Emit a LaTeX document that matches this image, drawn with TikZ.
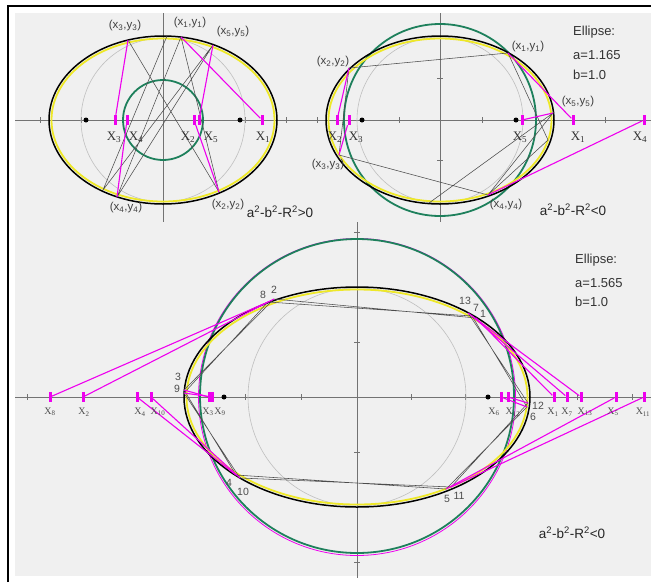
\documentclass[tikz,border=0pt]{standalone}
\usepackage{fontspec}
\setmainfont{Liberation Serif}
\newfontfamily\arial{Liberation Sans}
\usetikzlibrary{positioning}

\definecolor{bgray}{RGB}{240,240,240}
\definecolor{ellyellow}{RGB}{238,232,40}
\definecolor{causgreen}{RGB}{30,128,92}
\definecolor{raymag}{RGB}{238,0,238}

\tikzset{
  axisln/.style={draw=black!55, line width=0.6pt},
  unitcirc/.style={draw=black!25, line width=0.6pt},
  ellyel/.style={draw=ellyellow, line width=1.8pt},
  ellblk/.style={draw=black, line width=1.5pt},
  caustic/.style={draw=causgreen, line width=1.8pt},
  chord/.style={draw=black!70, line width=0.55pt},
  ray/.style={draw=raymag, line width=1.1pt},
  xbar/.style={fill=raymag, minimum width=3pt, minimum height=10pt, inner sep=0pt},
  fpoint/.style={circle, fill=black, minimum size=5pt, inner sep=0pt},
  ptlbl/.style={font=\arial\fontsize{11.5}{12}\selectfont, text=black!75, inner sep=0pt},
  xlbl/.style={font=\fontsize{13}{14}\selectfont, text=black!80, inner sep=0pt},
  xsmall/.style={font=\fontsize{10}{11}\selectfont, text=black!70, inner sep=0pt},
  numlbl/.style={font=\arial\fontsize{10.5}{11}\selectfont, text=black!70, inner sep=0pt},
  info/.style={font=\arial\fontsize{13}{15}\selectfont, text=black!80, inner sep=0pt, anchor=west},
  cond/.style={font=\arial\fontsize{13.5}{15}\selectfont, text=black!85, inner sep=0pt},
}

\begin{document}
\begin{tikzpicture}[x=1pt,y=-1pt]
		\useasboundingbox (0,0) rectangle (651,582);
		% --- frame ---
		\fill[bgray] (15,13) rectangle (651,576);
		\draw[line width=1.2pt] (8,582) -- (8,6) -- (651,6);

		% --- axes ---
		\draw[axisln] (15,120) -- (651,120);
		\draw[axisln] (15,397) -- (651,397);
		\draw[axisln] (163,13) -- (163,222);
		\draw[axisln] (440,13) -- (440,222);
		\draw[axisln] (357,222) -- (357,578);
		\foreach \t in {40,81,245,286,317,399,482,605} \draw[axisln] (\t,117) -- (\t,123);
		\foreach \t in {27,245,301,411,465,577,632} \draw[axisln] (\t,394) -- (\t,400);
		\foreach \t in {78,160} \draw[axisln] (437,\t) -- (443,\t);
		\foreach \t in {232,342,452,562} \draw[axisln] (354,\t) -- (360,\t);

		% --- TOP LEFT: a^2-b^2-R^2>0 ---
		\draw[unitcirc] (163,120) circle (82pt);
		\draw[caustic] (163,120) circle (40pt);
		\draw[ellyel] (163,120) ellipse (111.5pt and 81.5pt);
		\draw[ellblk] (163,120) ellipse (114pt and 84pt);
		\coordinate (tlp0) at (167,36);
		\coordinate (tlp1) at (181,37);
		\coordinate (tlp2) at (219,192);
		\coordinate (tlp3) at (128,40);
		\coordinate (tlp4) at (117,197);
		\coordinate (tlp5) at (213,45);
		\coordinate (tlp6) at (103,190);
		\draw[chord] (tlp0) -- (tlp6) (tlp1) -- (tlp4) (tlp1) -- (tlp2)
			(tlp3) -- (tlp2) (tlp5) -- (tlp4) (tlp5) -- (tlp6);
		\node[xbar] (tlX3) at (115,120) {};
		\node[xbar] (tlX4) at (127,120) {};
		\node[xbar] (tlX2) at (194,120) {};
		\node[xbar] (tlX5) at (199,120) {};
		\node[xbar] (tlX1) at (262,120) {};
		\draw[ray] (tlp3) -- (tlX3);
		\draw[ray] (tlp4) -- (tlX4);
		\draw[ray] (tlp2) -- (tlX2);
		\draw[ray] (tlp5) -- (tlX5);
		\draw[ray] (tlp1) -- (tlX1);
		\node[fpoint] (tlF1) at (86,120) {};
		\node[fpoint] (tlF2) at (240,120) {};
		\node[ptlbl] (tlL3) at (125,26) {(x\textsubscript{3},y\textsubscript{3})};
		\node[ptlbl] (tlL1) at (190,23) {(x\textsubscript{1},y\textsubscript{1})};
		\node[ptlbl] (tlL5) at (233,32) {(x\textsubscript{5},y\textsubscript{5})};
		\node[ptlbl] (tlL4) at (126,208) {(x\textsubscript{4},y\textsubscript{4})};
		\node[ptlbl] (tlL2) at (228,205) {(x\textsubscript{2},y\textsubscript{2})};
		\node[xlbl] (tlN3) at (114,137) {X\textsubscript{3}};
		\node[xlbl] (tlN4) at (136,137) {X\textsubscript{4}};
		\node[xlbl] (tlN2) at (188,137) {X\textsubscript{2}};
		\node[xlbl] (tlN5) at (211,137) {X\textsubscript{5}};
		\node[xlbl] (tlN1) at (263,137) {X\textsubscript{1}};
		\node[cond] (tlC) at (280,212) {a\textsuperscript{2}-b\textsuperscript{2}-R\textsuperscript{2}>0};

		% --- TOP RIGHT: a^2-b^2-R^2<0 ---
		\draw[unitcirc] (440,120) circle (83pt);
		\draw[caustic] (440,120) circle (96pt);
		\draw[ellyel] (440,120) ellipse (111.5pt and 81.5pt);
		\draw[ellblk] (440,120) ellipse (114pt and 84pt);
		\coordinate (trp1) at (508,53);
		\coordinate (trp2) at (349,68);
		\coordinate (trp3) at (339,155);
		\coordinate (trp4) at (488,195);
		\coordinate (trp5) at (553,113);
		\coordinate (trp6) at (429,203);
		\coordinate (trp7) at (548,140);
		\draw[chord] (trp1) -- (trp2) -- (trp3) -- (trp4) -- (trp5) -- (trp6)
			(trp1) -- (trp7) -- (trp4);
		\node[xbar] (trX2) at (337,120) {};
		\node[xbar] (trX3) at (349,120) {};
		\node[xbar] (trX5) at (522,120) {};
		\node[xbar] (trX1) at (573,120) {};
		\node[xbar] (trX4) at (644,120) {};
		\draw[ray] (trp1) -- (trX1);
		\draw[ray] (trp2) -- (trX2);
		\draw[ray] (trp3) -- (trX3);
		\draw[ray] (trp5) -- (trX5);
		\draw[ray] (trp4) -- (trX4);
		\node[fpoint] (trF1) at (362,120) {};
		\node[fpoint] (trF2) at (516,120) {};
		\node[ptlbl] (trL1) at (528,47) {(x\textsubscript{1},y\textsubscript{1})};
		\node[ptlbl] (trL2) at (333,62) {(x\textsubscript{2},y\textsubscript{2})};
		\node[ptlbl] (trL5) at (578,102) {(x\textsubscript{5},y\textsubscript{5})};
		\node[ptlbl] (trL3) at (328,165) {(x\textsubscript{3},y\textsubscript{3})};
		\node[ptlbl] (trL4) at (506,205) {(x\textsubscript{4},y\textsubscript{4})};
		\node[xlbl] (trN2) at (335,137) {X\textsubscript{2}};
		\node[xlbl] (trN3) at (356,137) {X\textsubscript{3}};
		\node[xlbl] (trN5) at (520,137) {X\textsubscript{5}};
		\node[xlbl] (trN1) at (578,137) {X\textsubscript{1}};
		\node[xlbl] (trN4) at (640,137) {X\textsubscript{4}};
		\node[info] (trE) at (573,32) {Ellipse:};
		\node[info] (trA) at (573,55) {a=1.165};
		\node[info] (trB) at (573,75) {b=1.0};
		\node[cond] (trC) at (573,210) {a\textsuperscript{2}-b\textsuperscript{2}-R\textsuperscript{2}<0};

		% --- BOTTOM: a=1.565, 13 reflections ---
		\draw[unitcirc] (357,397) circle (109pt);
		\draw[raymag, line width=0.8pt] (357,397) circle (158.5pt);
		\draw[caustic] (357,396) circle (157pt);
		\draw[ellyel] (357,397) ellipse (170.5pt and 107.5pt);
		\draw[ellblk] (357,397) ellipse (173pt and 110pt);
		\coordinate (b1) at (476,318);
		\coordinate (b2) at (274,299);
		\coordinate (b3) at (184,390);
		\coordinate (b4) at (236,475);
		\coordinate (b5) at (446,489);
		\coordinate (b6) at (527,407);
		\coordinate (b7) at (472,316);
		\coordinate (b8) at (268,302);
		\coordinate (b9) at (184,393);
		\coordinate (b10) at (240,478);
		\coordinate (b11) at (451,487);
		\coordinate (b12) at (528,403);
		\coordinate (b13) at (468,313);
		\draw[chord] (b1) -- (b2) -- (b3) -- (b4) -- (b5) -- (b6) -- (b7)
			-- (b8) -- (b9) -- (b10) -- (b11) -- (b12) -- (b13);
		\foreach \n/\x in {8/50,2/83,4/137,10/151,3/209,9/212,6/501,12/508,1/554,7/567,13/581,5/616,11/644}
			\node[xbar] (bX\n) at (\x,397) {};
		\foreach \n in {1,...,13}
			\draw[ray] (b\n) -- (bX\n);
		\node[fpoint] (bF1) at (224,397) {};
		\node[fpoint] (bF2) at (488,397) {};
		\foreach \n/\x in {8/50,2/84,4/140,10/158,3/208,9/220,6/494,12/513,1/553,7/567,13/585,5/613,11/643}
			\node[xsmall] (bN\n) at (\x,412) {X\textsubscript{\n}};
		\node[numlbl] (bn8) at (263,295) {8};
		\node[numlbl] (bn2) at (274,290) {2};
		\node[numlbl] (bn3) at (178,377) {3};
		\node[numlbl] (bn9) at (177,389) {9};
		\node[numlbl] (bn4) at (229,483) {4};
		\node[numlbl] (bn10) at (243,492) {10};
		\node[numlbl] (bn5) at (447,499) {5};
		\node[numlbl] (bn11) at (459,496) {11};
		\node[numlbl] (bn12) at (538,406) {12};
		\node[numlbl] (bn6) at (533,417) {6};
		\node[numlbl] (bn13) at (465,301) {13};
		\node[numlbl] (bn7) at (476,308) {7};
		\node[numlbl] (bn1) at (483,314) {1};
		\node[info] (bE) at (575,260) {Ellipse:};
		\node[info] (bA) at (575,283) {a=1.565};
		\node[info] (bB) at (575,302) {b=1.0};
		\node[cond] (bC) at (572,533) {a\textsuperscript{2}-b\textsuperscript{2}-R\textsuperscript{2}<0};
	\end{tikzpicture}
\end{document}
